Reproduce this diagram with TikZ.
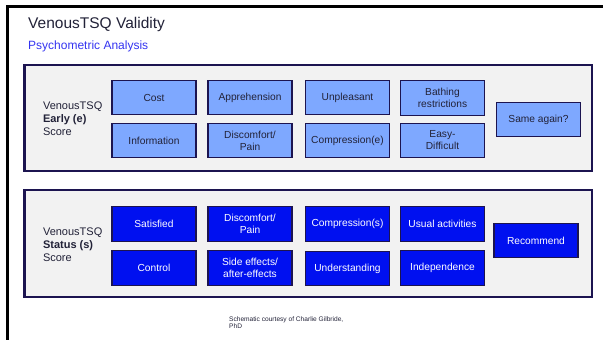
\documentclass[tikz,border=0pt]{standalone}
\usepackage{fontspec}
\setmainfont{Liberation Sans}
\definecolor{navy}{HTML}{1C1450}
\definecolor{paneltxt}{HTML}{222238}
\definecolor{panelfill}{HTML}{F2F2F2}
\definecolor{lightbox}{HTML}{7EA8FF}
\definecolor{darkbox}{HTML}{0010F0}
\definecolor{subblue}{HTML}{3434F0}
\begin{document}
\begin{tikzpicture}[x=1pt,y=-1pt,
  panel/.style={draw=navy,line width=2.6pt,fill=panelfill},
  tsqbox/.style={draw=navy,line width=1.4pt,minimum width=84pt,minimum height=34.5pt,
     inner sep=1pt,align=center,font=\fontsize{10.2}{12}\selectfont},
  earlybox/.style={tsqbox,fill=lightbox,text=paneltxt},
  statusbox/.style={tsqbox,fill=darkbox,text=white},
  sidelabel/.style={anchor=west,align=left,text=paneltxt,font=\fontsize{11}{13.2}\selectfont},
  frameline/.style={line width=2.5pt,black}]
\useasboundingbox (0,0) rectangle (603,340);
\draw[frameline] (603,6.5) -- (7.5,6.5) -- (7.5,340);
\node[anchor=base west,inner sep=0pt,text=paneltxt,font=\fontsize{15.5}{18}\selectfont] (title) at (28,28) {VenousTSQ Validity};
\node[anchor=base west,inner sep=0pt,text=subblue,font=\fontsize{12}{14}\selectfont] (subtitle) at (28,49) {Psychometric Analysis};
% panel 1
\draw[panel] (24.5,65) rectangle (592,171);
\node[sidelabel] (elabel) at (39.5,118.5) {VenousTSQ\\\textbf{Early (e)}\\Score};
\node[earlybox] (cost) at (154,97.5) {Cost};
\node[earlybox] (appr) at (250,97.5) {Apprehension};
\node[earlybox] (unpl) at (347.5,97.5) {Unpleasant};
\node[earlybox] (bath) at (442.5,98) {Bathing\\restrictions};
\node[earlybox] (info) at (154,140.5) {Information};
\node[earlybox] (disce) at (250,140.5) {Discomfort/\\Pain};
\node[earlybox] (compe) at (347.5,140.5) {Compression(e)};
\node[earlybox] (easy) at (442.5,140.5) {Easy-\\Difficult};
\node[earlybox] (same) at (538.5,119.5) {Same again?};
% panel 2
\draw[panel] (24.5,190) rectangle (592,297);
\node[sidelabel] (slabel) at (39.5,245) {VenousTSQ\\\textbf{Status (s)}\\Score};
\node[statusbox] (sat) at (154,224) {Satisfied};
\node[statusbox] (discs) at (250,224) {Discomfort/\\Pain};
\node[statusbox] (comps) at (347.5,224) {Compression(s)};
\node[statusbox] (usual) at (442.5,224) {Usual activities};
\node[statusbox] (ctrl) at (154,268) {Control};
\node[statusbox] (side) at (250,268) {Side effects/\\after-effects};
\node[statusbox] (under) at (347.5,268.5) {Understanding};
\node[statusbox] (indep) at (442.5,268) {Independence};
\node[statusbox] (recom) at (536,240.5) {Recommend};
% footer
\node[anchor=base west,inner sep=0pt,align=left,text=paneltxt,font=\fontsize{6.6}{7.4}\selectfont] (credit) at (229,328.5) {Schematic courtesy of Charlie Gilbride,\\PhD};
\end{tikzpicture}
\end{document}
